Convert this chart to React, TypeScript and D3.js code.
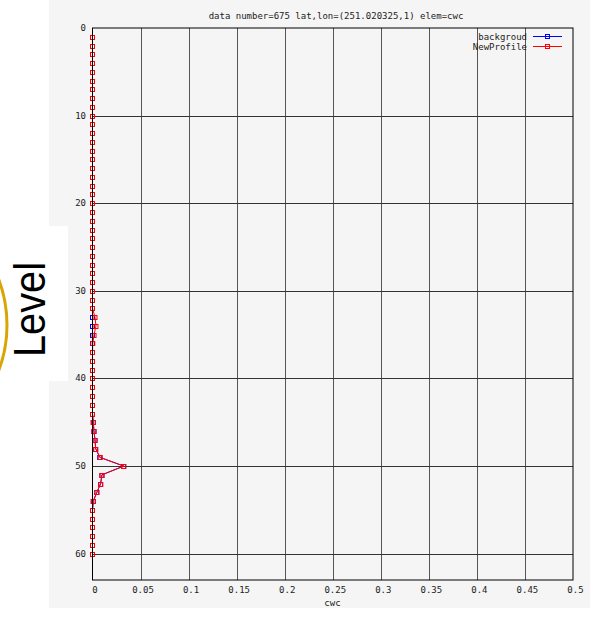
import React from "react";
import * as d3 from "d3";

const levels: number[] = Array.from({ length: 60 }, (_, i) => i + 1);
const backgroud: number[] = [
  0, 0, 0, 0, 0, 0, 0, 0, 0, 0,
  0, 0, 0, 0, 0, 0, 0, 0, 0, 0,
  0, 0, 0, 0, 0, 0, 0, 0, 0, 0,
  0, 0, 0, 0, 0, 0, 0, 0, 0, 0,
  0, 0, 0, 0, 0.0008, 0.0015, 0.0026, 0.0033, 0.0075, 0.0325,
  0.0098, 0.0085, 0.0045, 0.0008, 0, 0, 0, 0, 0, 0,
];
const newProfile: number[] = [
  0, 0, 0, 0, 0, 0, 0, 0, 0, 0,
  0, 0, 0, 0, 0, 0, 0, 0, 0, 0,
  0, 0, 0, 0, 0, 0, 0, 0, 0, 0,
  0, 0, 0.0026, 0.0036, 0.0016, 0.0003, 0, 0, 0, 0,
  0, 0, 0, 0, 0.0008, 0.0015, 0.0026, 0.0033, 0.008, 0.0325,
  0.0098, 0.0085, 0.0045, 0.0008, 0, 0, 0, 0, 0, 0,
];
const xTicks: number[] = [0, 0.05, 0.1, 0.15, 0.2, 0.25, 0.3, 0.35, 0.4, 0.45, 0.5];
const yTicks: number[] = [0, 10, 20, 30, 40, 50, 60];
const seriesNames: string[] = ["backgroud", "NewProfile"];
const seriesColors: string[] = ["#0000ff", "#ff0000"];
const title = "data number=675 lat,lon=(251.020325,1) elem=cwc";
const xLabel = "cwc";
const sideLabel = "Level";

export default function App() {
  const W = 590, H = 631;
  const left = 92.5, right = 573, top = 28, bottom = 580;
  const x = d3.scaleLinear().domain([0, 0.5]).range([left, right]);
  const y = d3.scaleLinear().domain([0, 63]).range([top, bottom]);
  const mono = "'DejaVu Sans Mono', 'Liberation Mono', monospace";
  const fs = 9;
  const series = [backgroud, newProfile];
  const line = d3
    .line<number>()
    .x((d) => x(d))
    .y((_, i) => y(levels[i]));

  return (
    <svg width={W} height={H} style={{ position: "absolute", left: 0, top: 0, background: "#fff" }}>
      <rect x={49} y={0} width={W - 49} height={608} fill="#f5f5f5" />
      <text x={336} y={19} fontFamily={mono} fontSize={fs} textAnchor="middle" fill="#222">
        {title}
      </text>
      {/* grid */}
      {xTicks.slice(1, -1).map((t) => (
        <line key={"gx" + t} x1={Math.round(x(t)) + 0.5} x2={Math.round(x(t)) + 0.5} y1={top} y2={bottom} stroke="#555" strokeWidth={1} />
      ))}
      {yTicks.slice(1).map((t) => (
        <line key={"gy" + t} x1={left} x2={right} y1={Math.round(y(t)) + 0.5} y2={Math.round(y(t)) + 0.5} stroke="#333" strokeWidth={1} />
      ))}
      {/* tick labels */}
      {yTicks.map((t) => (
        <text key={"yl" + t} x={86} y={y(t) + 3} fontFamily={mono} fontSize={fs} textAnchor="end" fill="#222">
          {t}
        </text>
      ))}
      {xTicks.map((t) => (
        <text key={"xl" + t} x={x(t) + 2.5} y={593} fontFamily={mono} fontSize={fs} textAnchor="middle" fill="#222">
          {String(t)}
        </text>
      ))}
      <text x={332.5} y={606} fontFamily={mono} fontSize={fs} textAnchor="middle" fill="#222">
        {xLabel}
      </text>
      {/* series */}
      {series.map((s, si) => (
        <g key={"s" + si}>
          <path d={line(s) || ""} fill="none" stroke={seriesColors[si]} strokeWidth={1} />
          {s.map((v, i) => (
            <rect key={i} x={x(v) - 2} y={Math.round(y(levels[i])) - 1.5} width={4} height={4} fill="none" stroke={seriesColors[si]} strokeWidth={1} />
          ))}
        </g>
      ))}
      <line x1={left} x2={left} y1={top} y2={bottom} stroke="#000" strokeWidth={1} />
      <rect x={left} y={top} width={right - left} height={bottom - top} fill="none" stroke="#000" strokeWidth={1} />
      {/* legend */}
      {seriesNames.map((n, i) => {
        const ly = 36.5 + i * 10;
        return (
          <g key={"lg" + n}>
            <text x={527} y={ly + 3} fontFamily={mono} fontSize={fs} textAnchor="end" fill="#222">
              {n}
            </text>
            <line x1={533} x2={562} y1={ly} y2={ly} stroke={seriesColors[i]} strokeWidth={1} />
            <rect x={545.5} y={ly - 2} width={4} height={4} fill="none" stroke={seriesColors[i]} strokeWidth={1} />
          </g>
        );
      })}
      {/* overlay label */}
      <rect x={0} y={226} width={68} height={155} fill="#fff" />
      <circle cx={-123} cy={325} r={130} fill="none" stroke="#d9a404" strokeWidth={3} />
      <text
        transform="translate(45,309.5) rotate(-90)"
        fontFamily="'Liberation Sans', Arial, sans-serif"
        fontSize={44}
        textAnchor="middle"
        textLength={95}
        lengthAdjust="spacingAndGlyphs"
        fill="#000"
      >
        {sideLabel}
      </text>
    </svg>
  );
}
